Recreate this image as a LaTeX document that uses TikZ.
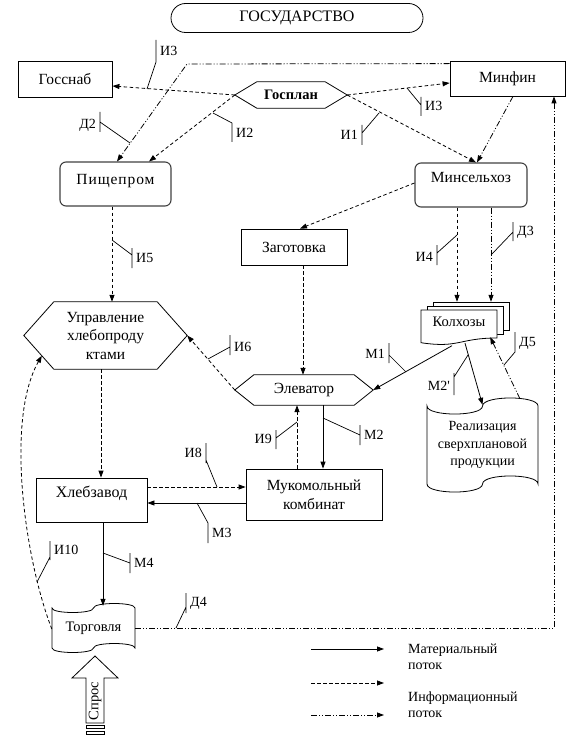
\documentclass[tikz,border=0pt]{standalone}
\usepackage{fontspec}
\setmainfont{Liberation Serif}
\usetikzlibrary{arrows.meta,calc}
\begin{document}
\begin{tikzpicture}[x=1pt,y=-1pt,
  every node/.style={font=\fontsize{14}{18}\selectfont, inner sep=0pt},
  big/.style={font=\fontsize{15.5}{18}\selectfont},
  box/.style={draw, line width=0.8pt},
  rbox/.style={draw=black!75, line width=1.1pt, rounded corners=6pt},
  outl/.style={draw, line width=0.8pt, fill=white},
  tup/.style={text height=10pt, text depth=#1},
  tip/.style={-{Triangle[length=7pt,width=5pt]}},
  mat/.style={line width=0.8pt, tip},
  inf/.style={line width=0.8pt, dash pattern=on 3.5pt off 2.5pt, tip},
  dd/.style={line width=0.8pt, dash pattern=on 6pt off 2pt on 1pt off 2pt on 1pt off 2pt, tip},
  cl/.style={line width=0.7pt},
  labw/.style={anchor=west},
  labe/.style={anchor=east}]
\useasboundingbox (0,0) rectangle (573,738);

% ---- shapes drawn directly ----
% Kolkhozy (multi-document)
\draw[outl] (433,302) rectangle (509,330);
\draw[outl] (427,306) rectangle (503,334);
\draw[outl] (421,310) -- (497,310) -- (497,338) .. controls (459,338) and (459,348.5) .. (421,342.7) -- cycle;
% Realizatsiya (punched tape)
\draw[outl] (427,406) .. controls (427,416.7) and (482.5,416.7) .. (482.5,406) .. controls (482.5,395.3) and (538,395.3) .. (538,406) -- (538,484) .. controls (538,473.3) and (482.5,473.3) .. (482.5,484) .. controls (482.5,494.7) and (427,494.7) .. (427,484) -- cycle;
% Torgovlya (punched tape)
\draw[outl] (52,608) .. controls (52,614) and (93.5,614) .. (93.5,608) .. controls (93.5,602) and (135,602) .. (135,608) -- (135,648) .. controls (135,642) and (93.5,642) .. (93.5,648) .. controls (93.5,654) and (52,654) .. (52,648) -- cycle;
% Spros block arrow
\draw[outl] (86,723) -- (86,678) -- (72,678) -- (95,656) -- (118,678) -- (104,678) -- (104,723) -- cycle;
\draw[line width=0.7pt] (86,725) rectangle (104,728.5);
\draw[line width=0.7pt] (86,731) rectangle (104,734.5);

% ---- nodes ----
\node[box, rounded corners=14.5pt, minimum width=252pt, minimum height=29pt, font=\fontsize{16}{18}\selectfont] (gos) at (297,18) {ГОСУДАРСТВО};
\node[box, big, minimum width=94pt, minimum height=36pt] (gossnab) at (65,79) {Госснаб};
\node[box, big, minimum width=115pt, minimum height=35pt] (minfin) at (507.5,78.5) {Минфин};
\node[minimum width=112pt, minimum height=26pt, font=\bfseries\fontsize{14.5}{16}\selectfont] (gosplan) at (291,95) {Госплан};
\node[rbox, minimum width=111pt, minimum height=44pt, tup=9pt, font=\addfontfeature{LetterSpace=6}\fontsize{15.5}{18}\selectfont] (pish) at (115.5,184) {Пищепром};
\node[rbox, big, minimum width=112pt, minimum height=44pt, tup=15pt] (minsel) at (471,185) {Минсельхоз};
\node[box, big, minimum width=106pt, minimum height=36pt] (zag) at (294,247) {Заготовка};
\node[minimum width=163pt, minimum height=67pt, align=center, font=\fontsize{15.5}{18.5}\selectfont] (upr) at (105.5,335.5) {Управление\\хлебопроду\\ктами};
\node[big, minimum width=138pt, minimum height=30pt] (elev) at (304,390) {Элеватор};
\node[minimum width=76pt, minimum height=35pt, tup=12pt, font=\fontsize{14.5}{18}\selectfont] (kolk) at (459,327.5) {Колхозы};
\node[minimum width=111pt, minimum height=94pt, align=center, font=\fontsize{14}{17.5}\selectfont] (real) at (482.5,445) {Реализация\\сверхплановой\\продукции};
\node[box, minimum width=136pt, minimum height=51pt, align=center, font=\fontsize{15.5}{19}\selectfont] (muk) at (314,494.5) {Мукомольный\\комбинат};
\node[box, minimum width=111pt, minimum height=44pt, tup=15pt, font=\fontsize{16}{18}\selectfont] (khleb) at (91.5,500) {Хлебзавод};
\node[minimum width=83pt, minimum height=49pt, font=\fontsize{14.5}{18}\selectfont] (torg) at (93.5,628) {Торговля};
\node[rotate=90, font=\fontsize{14.5}{18}\selectfont] (spros) at (95,701) {Спрос};

% hexagons
\draw[line width=0.8pt] (gosplan.west) -- ($(gosplan.north west)+(22,0)$) -- ($(gosplan.north east)+(-22,0)$) -- (gosplan.east) -- ($(gosplan.south east)+(-22,0)$) -- ($(gosplan.south west)+(22,0)$) -- cycle;
\coordinate (uprsw) at ($(upr.south west)+(30,0)$);
\draw[line width=0.8pt] (upr.west) -- ($(upr.north west)+(30,0)$) -- ($(upr.north east)+(-30,0)$) -- (upr.east) -- ($(upr.south east)+(-30,0)$) -- (uprsw) -- cycle;
\draw[line width=0.8pt] (elev.west) -- ($(elev.north west)+(19,0)$) -- ($(elev.north east)+(-19,0)$) -- (elev.east) -- ($(elev.south east)+(-19,0)$) -- ($(elev.south west)+(19,0)$) -- cycle;

% ---- connectors ----
\draw[inf] (gosplan.west) -- ($(gossnab.east)+(0,7)$);
\coordinate (bend1) at (187,64);
\draw[dd] ($(minfin.north west)+(0,3)$) -- (bend1) -- ($(pish.north)+(1.5,0)$);
\draw[inf] (gosplan.west) -- ($(pish.north)+(33.5,0)$);
\draw[inf] (gosplan.east) -- ($(minsel.north)+(5,0)$);
\draw[inf] (gosplan.east) -- ($(minfin.west)+(0,4.5)$);
\draw[dd] ($(minfin.south)+(5.5,0)$) -- ($(minsel.north)+(6,0)$);
\draw[inf] ($(minsel.west)+(0,-2)$) -- ($(zag.north)+(6,0)$);
\draw[inf] ($(pish.south)+(-3.5,0)$) -- ($(upr.north)+(6.5,0)$);
\draw[inf] ($(minsel.south)+(-14,0)$) -- ($(kolk.north)+(-2,-8)$);
\draw[dd] ($(minsel.south)+(20,0)$) -- ($(kolk.north)+(32,-8)$);
\draw[inf] ($(zag.south)+(9,0)$) -- ($(elev.north)+(-1,0)$);
\draw[inf] (elev.west) -- (upr.east);
\draw[mat] ($(kolk.south)+(-7,0.5)$) -- (elev.east);
\draw[mat] ($(kolk.south)+(6,-2)$) -- ($(real.north)+(0,7)$);
\draw[dd] ($(real.north)+(37.5,1)$) -- ($(kolk.south east)+(-7,-8)$);
\draw[mat] ($(elev.south)+(19,0)$) -- ($(muk.north)+(9,0)$);
\draw[inf] ($(muk.north)+(-17,0)$) -- ($(elev.south)+(-7,0)$);
\draw[inf] ($(upr.south)+(-4.5,0)$) -- ($(khleb.north)+(9.5,0)$);
\draw[inf] ($(khleb.east)+(0,-13)$) -- ($(muk.west)+(0,-7.5)$);
\draw[mat] ($(muk.west)+(0,8.5)$) -- ($(khleb.east)+(0,3)$);
\draw[mat] ($(khleb.south)+(11.5,0)$) -- ($(torg.north)+(9.5,2.5)$);
\coordinate (uprtip) at ($(upr.west)!0.6!(uprsw)$);
\draw[inf] ($(torg.west)+(0,1)$) .. controls (25,560) and (5,420) .. (uprtip);
\draw[dd] (torg.east) -| ($(minfin.south)+(46.5,0)$);

% ---- callouts ----
\draw[cl] (147,89) -- (156,62) (156,40) -- (156,62);
\node[labw] (c1) at (160,51) {И3};
\draw[cl] (130,143) -- (100,122) (100,112) -- (100,132);
\node[labe] (c2) at (96,125) {Д2};
\draw[cl] (213,113) -- (232,123) (232,123) -- (232,142);
\node[labw] (c3) at (236,133) {И2};
\draw[cl] (379,113) -- (362,133) (362,125) -- (362,145);
\node[labe] (c4) at (358,135) {И1};
\draw[cl] (407,88) -- (421,105) (421,97) -- (421,116);
\node[labw] (c5) at (425,106) {И3};
\draw[cl] (112,240) -- (132,255) (132,248) -- (132,268);
\node[labw] (c6) at (136,258) {И5};
\draw[cl] (457,235) -- (437,253) (437,245) -- (437,265);
\node[labe] (c7) at (433,257) {И4};
\draw[cl] (491,255) -- (513,232) (513,222) -- (513,241);
\node[labw] (c8) at (517,232) {Д3};
\draw[cl] (208,359) -- (230,347) (230,335) -- (230,355);
\node[labw] (c9) at (234,347) {И6};
\draw[cl] (406,372) -- (389,355) (389,343) -- (389,363);
\node[labe] (c10) at (385,354) {М1};
\draw[cl] (468,355) -- (454,377) (454,373) -- (454,395);
\node[labe] (c11) at (450,386) {М2\textquotesingle};
\draw[cl] (504,365) -- (515,352) (515,332) -- (515,352);
\node[labw] (c12) at (519,343) {Д5};
\draw[cl] (323,418) -- (360,435) (360,425) -- (360,445);
\node[labw] (c13) at (364,435) {М2};
\draw[cl] (297,422) -- (276,438) (276,430) -- (276,449);
\node[labe] (c14) at (272,439) {И9};
\draw[cl] (217,487) -- (206,460) (206,443) -- (206,463);
\node[labe] (c15) at (202,453) {И8};
\draw[cl] (197,503) -- (208,523) (208,523) -- (208,543);
\node[labw] (c16) at (212,533) {М3};
\draw[cl] (103,553) -- (130,563) (130,553) -- (130,573);
\node[labw] (c17) at (134,563) {М4};
\draw[cl] (37,582) -- (50,557) (50,541) -- (50,560);
\node[labw] (c18) at (54,550) {И10};
\draw[cl] (176,628) -- (186,607) (186,593) -- (186,613);
\node[labw] (c19) at (190,603) {Д4};

% ---- legend ----
\coordinate (l1a) at (311,649); \coordinate (l1b) at (384,649);
\coordinate (l2a) at (311,683); \coordinate (l2b) at (384,683);
\coordinate (l3a) at (311,715); \coordinate (l3b) at (384,715);
\draw[mat] (l1a) -- (l1b);
\draw[inf] (l2a) -- (l2b);
\draw[dd] (l3a) -- (l3b);
\node[anchor=west, align=left, font=\fontsize{14}{16}\selectfont] (lt1) at (408,657) {Материальный\\поток};
\node[anchor=west, align=left, font=\fontsize{14}{16}\selectfont] (lt2) at (408,705) {Информационный\\поток};
\end{tikzpicture}
\end{document}
